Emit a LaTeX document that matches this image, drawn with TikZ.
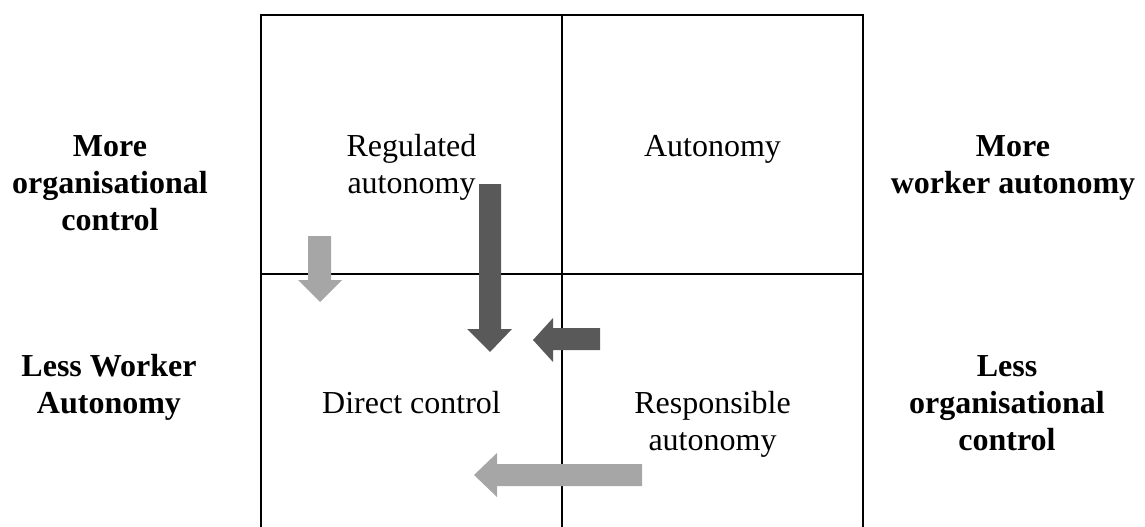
\documentclass[tikz,border=0pt]{standalone}
\usepackage{fontspec}
\setmainfont{Liberation Serif}
\definecolor{arrowlight}{HTML}{A6A6A6}
\definecolor{arrowdark}{HTML}{595959}
\begin{document}
\begin{tikzpicture}[x=1pt,y=-1pt,
  gridline/.style={line width=2.2pt},
  lbl/.style={align=center, inner sep=0pt, anchor=base, font=\fontsize{32}{37}\selectfont},
  side/.style={lbl, font=\fontsize{32}{37}\selectfont\bfseries},
  lightarrow/.style={fill=arrowlight, draw=none},
  darkarrow/.style={fill=arrowdark, draw=none}]
\useasboundingbox (0,0) rectangle (1145,527);

% two-by-two grid, open at the bottom
\coordinate (gtl) at (261,15);
\coordinate (gtm) at (562,15);
\coordinate (gtr) at (863,15);
\coordinate (gbl) at (261,527);
\coordinate (gbm) at (562,527);
\coordinate (gbr) at (863,527);
\coordinate (gml) at (261,274);
\coordinate (gmr) at (863,274);
\draw[gridline] (gbl) -- (gtl) -- (gtr) -- (gbr);
\draw[gridline] (gtm) -- (gbm);
\draw[gridline] (gml) -- (gmr);

% quadrant labels (anchored at the baseline of their last line)
\node[lbl] (regulated) at (411.5,193) {Regulated\\autonomy};
\node[lbl] (autonomy) at (712.5,156) {Autonomy};
\node[lbl] (direct) at (411.5,413) {Direct control};
\node[lbl] (responsible) at (712.5,450) {Responsible\\autonomy};

% axis labels
\node[side] (moreorg) at (110,230) {More\\organisational\\control};
\node[side] (lessworker) at (109,413) {Less Worker\\Autonomy};
\node[side] (moreworker) at (1013,193) {More\\worker autonomy};
\node[side] (lessorg) at (1007,450) {Less\\organisational\\control};

% block arrows
\fill[lightarrow] (308,236) -- (331,236) -- (331,280) -- (342,280) -- (320,302) -- (298,280) -- (308,280) -- cycle;
\fill[darkarrow] (479,184) -- (501,184) -- (501,329) -- (512,329) -- (490,352) -- (467,329) -- (479,329) -- cycle;
\fill[darkarrow] (600,328) -- (600,350) -- (553,350) -- (553,362) -- (533,340) -- (553,318) -- (553,328) -- cycle;
\fill[lightarrow] (642,464) -- (642,486) -- (497,486) -- (497,497) -- (474,475) -- (497,453) -- (497,464) -- cycle;
\end{tikzpicture}
\end{document}
